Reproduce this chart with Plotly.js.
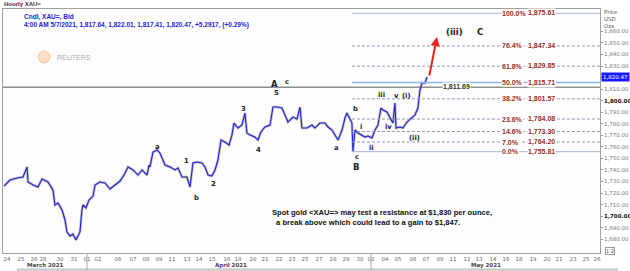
<!DOCTYPE html>
<html>
<head>
<meta charset="utf-8">
<script src="https://cdn.plot.ly/plotly-3.0.1.min.js"></script>
<style>html,body{margin:0;padding:0;background:#fff}#chart{width:630px;height:271px}</style>
</head>
<body>
<div id="chart"></div>
<script>
// ---- data ----
// time in trading-day units from 24 Mar 2021
const days = [-0.37,0.07,0.60,1.05,1.35,1.42,1.80,2.17,2.47,2.92,3.29,3.44,3.67,3.97,4.19,4.34,4.57,4.79,5.01,5.31,5.46,5.54,5.76,5.99,6.29,6.44,6.81,7.19,7.56,7.93,8.31,8.61,8.91,9.28,9.66,9.96,10.33,10.48,10.55,10.78,11.08,11.30,11.68,12.05,12.43,12.65,12.95,13.32,13.55,13.77,14.07,14.45,14.67,14.90,15.19,15.42,15.64,15.87,16.17,16.47,16.69,16.84,17.14,17.44,17.66,17.81,18.04,18.41,18.64,18.86,19.16,19.54,19.76,20.06,20.43,20.66,20.88,21.03,21.26,21.56,21.78,21.93,22.31,22.68,22.90,23.28,23.65,23.88,24.18,24.40,24.63,24.93,25.15,25.30,25.67,25.75,25.90,26.12,26.42,26.65,26.87,27.17,27.40,27.62,27.84,27.99,28.29,28.52,28.74,28.89,28.97,29.27,29.49,29.79,30.09,30.39,30.61,30.76,30.91,31.14,31.29];
const price = [1726.1,1731.3,1733.0,1733.9,1742.6,1729.6,1727.0,1725.2,1732.2,1729.6,1722.6,1709.7,1711.4,1705.3,1696.7,1686.3,1682.8,1684.5,1679.4,1686.3,1705.3,1709.7,1707.1,1714.0,1717.4,1727.0,1729.6,1728.7,1723.5,1727.0,1730.4,1735.6,1742.6,1740.0,1735.6,1740.0,1735.6,1744.3,1742.6,1755.5,1757.3,1754.7,1744.3,1742.6,1740.0,1741.7,1733.9,1733.9,1725.2,1746.0,1746.9,1746.0,1742.6,1735.6,1734.8,1740.0,1748.6,1765.9,1764.2,1761.6,1770.3,1780.6,1776.3,1778.9,1789.3,1772.0,1770.3,1768.5,1765.9,1772.9,1777.2,1778.9,1794.5,1794.5,1793.6,1787.6,1781.5,1783.2,1785.8,1784.1,1794.5,1776.3,1776.3,1778.9,1776.3,1780.6,1780.6,1777.2,1774.6,1770.3,1765.9,1774.6,1785.0,1789.3,1780.6,1755.8,1774.6,1772.0,1770.3,1768.5,1769.4,1767.7,1774.6,1778.9,1793.6,1791.9,1790.2,1785.8,1780.6,1798.0,1776.3,1777.2,1776.3,1781.5,1785.0,1787.6,1793.6,1809.2,1815.3,1815.3,1820.5];
const lastPrice = 1820.47;
const supportLevel = 1811.69;

const fibPct = ["100.0%","76.4%","61.8%","50.0%","38.2%","23.6%","14.6%","7.0%","0.0%"];
const fibVal = [1875.61,1847.34,1829.85,1815.71,1801.57,1784.08,1773.30,1764.20,1755.81];
const fibStartDay = 25.67;

const xTickDays = [-0.15,0.90,1.87,2.54,3.82,4.87,5.84,6.66,8.16,9.28,10.25,11.23,12.20,13.32,14.22,15.19,16.32,17.14,18.26,19.16,20.21,21.18,22.16,23.20,24.25,25.22,26.27,27.10,28.14,29.12,30.24,31.21,32.26,33.23,34.28,35.18,36.23,37.20,38.17,39.22,40.27,41.17,42.22,43.19,44.01];
const xTickText = ["24","25","26","28","30","31","01","02","06","07","08","09","11","13","14","15","16","18","20","21","22","23","25","27","28","29","30","02","04","05","06","07","09","11","12","13","14","16","18","19","20","21","23","25","26"];
const monthNames = ["March 2021","April 2021","May 2021"];
const monthCenterDays = [2.70,16.60,35.70];
const monthStartDays = [5.84,27.10];

const yTicks = [1680,1690,1700,1710,1720,1730,1740,1750,1760,1770,1780,1790,1800,1810,1820,1830,1840,1850,1860];

const waveText = ["a","1","b","2","3","4","A","5","c","a","b","c","B","i","ii","iii","iv","v","(i)","(ii)","(iii)","C"];
const waveDay  = [11.08,13.32,14.07,15.27,17.59,18.64,19.84,20.06,20.81,24.48,25.90,26.05,25.97,26.35,27.17,27.92,28.44,28.97,29.79,30.39,33.38,35.25];
const wavePrice= [1759.9,1747.8,1715.7,1727.8,1792.8,1757.3,1814.4,1806.6,1816.2,1759.0,1792.7,1751.2,1742.6,1777.2,1759.0,1804.9,1777.2,1804.0,1804.0,1767.7,1859.4,1859.4];
const bigWaves = ["A","B","C","(iii)"];

const arrowFrom = [31.44,1820.5];
const arrowTo = [32.04,1855.1];

const headerTitle = "Hourly XAU=";
const headerLine1 = "Cndl, XAU=, Bid";
const headerLine2 = "4:00 AM 5/7/2021, 1,817.64, 1,822.01, 1,817.41, 1,820.47, +5.2917, (+0.29%)";
const noteLines = ["Spot gold &lt;XAU=&gt; may test a resistance at $1,830 per ounce,", " a break above which could lead to a gain to $1,847."];

// ---- layout constants ----
const xRange = [-0.45, 44.24];
const yRange = [1668.1, 1879.36];
const fmt = v => v.toLocaleString('en-US',{minimumFractionDigits:2,maximumFractionDigits:2});
const boldFont = (size,color) => ({family:'Liberation Sans', size:size, color:color, weight:'bold'});

const traces = [
  {x: days, y: price, type:'scatter', mode:'lines', hoverinfo:'skip',
   line:{color:'rgba(135,135,145,0.55)', width:2.6}},
  {x: days, y: price, type:'scatter', mode:'lines', hoverinfo:'skip',
   line:{color:'#2222d8', width:1.1}}
];

const shapes = [];
const annotations = [];
const solidFib = {"100.0%":true,"50.0%":true,"0.0%":true};
fibPct.forEach((p,i)=>{
  const solid = solidFib[p];
  shapes.push({type:'line', xref:'x', yref:'y', x0:fibStartDay, x1:xRange[1], y0:fibVal[i], y1:fibVal[i],
    line:{color: p==="50.0%" ? '#8fb4e6' : (solid ? '#a6b8d0' : '#8c9cb8'), width: p==="50.0%"?1.6:1, dash: solid?'solid':'3px,2px'}});
  annotations.push({xref:'paper', yref:'y', x:0.834, y:fibVal[i], xanchor:'left', yanchor:'middle', showarrow:false,
    text:p, font:boldFont(7,'#9e2a2a'), bgcolor:'#fff', borderpad:0});
  annotations.push({xref:'paper', yref:'y', x:0.877, y:fibVal[i], xanchor:'left', yanchor:'middle', showarrow:false,
    text:fmt(fibVal[i]), font:boldFont(7,'#9e2a2a'), bgcolor:'#fff', borderpad:0});
});
shapes.push({type:'line', xref:'paper', yref:'y', x0:0, x1:1, y0:supportLevel, y1:supportLevel, line:{color:'#555', width:1}});
annotations.push({xref:'paper', yref:'y', x:0.735, y:supportLevel, xanchor:'left', yanchor:'middle', showarrow:false,
  text:fmt(supportLevel), font:boldFont(7,'#333'), bgcolor:'#fff', borderpad:0});

monthStartDays.forEach(d=>{
  shapes.push({type:'line', xref:'x', yref:'paper', x0:d, x1:d, y0:0, y1:-0.07, line:{color:'#aaa', width:1}});
});
monthNames.forEach((m,i)=>{
  annotations.push({xref:'x', yref:'paper', x:monthCenterDays[i], y:-0.05, yanchor:'middle', showarrow:false,
    text:m, font:{family:'DejaVu Sans', size:5.5, color:'#444', weight:'bold'}});
});
// scroll strip
shapes.push({type:'rect', xref:'paper', yref:'paper', x0:0.023, x1:1.03, y0:-0.062, y1:-0.08, fillcolor:'#cfcfcf', line:{width:0}, layer:'below'});

waveText.forEach((t,i)=>{
  const big = bigWaves.includes(t);
  annotations.push({xref:'x', yref:'y', x:waveDay[i], y:wavePrice[i], showarrow:false, text:t,
    font:{family:'DejaVu Sans', size: big?8.5:6.8, color:'#222', weight:'bold'}});
});

annotations.push({xref:'x', yref:'y', axref:'x', ayref:'y', x:arrowTo[0], y:arrowTo[1], ax:arrowFrom[0], ay:arrowFrom[1],
  showarrow:true, text:'', arrowcolor:'#e8231f', arrowwidth:2, arrowhead:2, arrowsize:0.9});

// price tag
annotations.push({xref:'paper', yref:'y', x:1, y:lastPrice, xanchor:'left', yanchor:'middle', xshift:1, showarrow:false,
  text:fmt(lastPrice), font:{family:'DejaVu Sans', size:5.5, color:'#fff'}, bgcolor:'#1a1aff', borderpad:1});
["Price","USD","Ozs"].forEach((t,i)=>{
  annotations.push({xref:'paper', yref:'paper', x:1, xshift:2, y:0.988 - i*0.029, xanchor:'left', yanchor:'middle', showarrow:false,
    text:t, font:{family:'DejaVu Sans', size:5.5, color:'#555'}});
});
annotations.push({xref:'paper', yref:'paper', x:1, xshift:5, y:0.01, xanchor:'left', yanchor:'middle', showarrow:false,
  text:'1:2', font:{family:'DejaVu Sans', size:5, color:'#555'}, bordercolor:'#999', borderwidth:1, borderpad:0, bgcolor:'#fff'});

// header
annotations.push({xref:'paper', yref:'paper', x:-0.002, y:1.022, xanchor:'left', yanchor:'middle', showarrow:false,
  text:headerTitle, font:boldFont(6,'#333')});
annotations.push({xref:'paper', yref:'paper', x:0.032, y:0.967, xanchor:'left', yanchor:'middle', showarrow:false,
  text:headerLine1, font:boldFont(6.5,'#2424e0')});
annotations.push({xref:'paper', yref:'paper', x:0.032, y:0.933, xanchor:'left', yanchor:'middle', showarrow:false,
  text:headerLine2, font:boldFont(6.5,'#2424e0')});
// Reuters mark
shapes.push({type:'circle', xref:'paper', yref:'paper', x0:0.059, x1:0.079, y0:0.779, y1:0.828, fillcolor:'rgba(240,170,100,0.35)', line:{color:'rgba(235,160,90,0.5)', width:1}});
annotations.push({xref:'paper', yref:'paper', x:0.087, y:0.803, xanchor:'left', yanchor:'middle', showarrow:false,
  text:'REUTERS', font:{family:'Liberation Sans', size:7, color:'#aaa'}});

// note
noteLines.forEach((t,i)=>{
  annotations.push({xref:'paper', yref:'paper', x:0.448 + i*0.003, y:0.164 - i*0.037, xanchor:'left', yanchor:'middle', showarrow:false,
    text:t, font:boldFont(7.6,'#111')});
});

const yTickText = yTicks.map(v => (v===1700||v===1800) ? '<b><span style="color:#111">'+fmt(v)+'</span></b>' : fmt(v));

const layout = {
  width:630, height:271,
  margin:{l:3, r:30, t:9, b:18},
  paper_bgcolor:'#ffffff', plot_bgcolor:'#fdfdfd',
  showlegend:false,
  xaxis:{range:xRange, tickvals:xTickDays, ticktext:xTickText, tickfont:{family:'DejaVu Sans', size:5.5, color:'#666'},
    showgrid:false, zeroline:false, showline:true, mirror:true, linecolor:'#a0a0a0', linewidth:1, ticks:'', tickangle:0, fixedrange:true},
  yaxis:{range:yRange, side:'right', tickvals:yTicks, ticktext:yTickText, tickfont:{family:'DejaVu Sans', size:5.5, color:'#777'},
    showgrid:false, zeroline:false, showline:true, mirror:true, linecolor:'#a0a0a0', linewidth:1, ticks:'outside', ticklen:2, tickcolor:'#999', fixedrange:true},
  shapes:shapes, annotations:annotations
};
Plotly.newPlot('chart', traces, layout, {staticPlot:true, displayModeBar:false});
</script>
</body>
</html>
